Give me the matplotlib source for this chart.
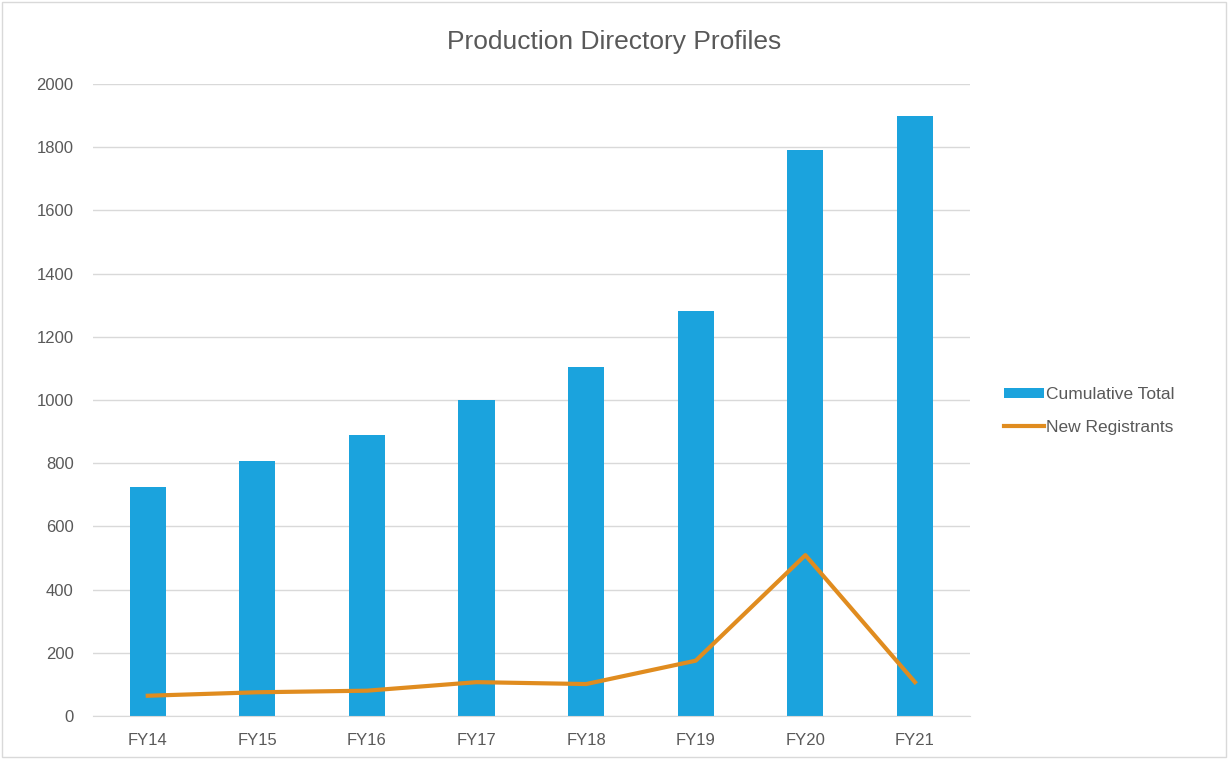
import matplotlib
matplotlib.use("Agg")
import matplotlib.pyplot as plt
from matplotlib.patches import Rectangle

categories = ["FY14", "FY15", "FY16", "FY17", "FY18", "FY19", "FY20", "FY21"]
cumulative_total = [725, 807, 889, 1000, 1104, 1282, 1791, 1899]
new_registrants = [64, 75, 80, 107, 101, 175, 509, 107]
yticks = [0, 200, 400, 600, 800, 1000, 1200, 1400, 1600, 1800, 2000]

plt.rcParams['font.family'] = ['Liberation Sans', 'DejaVu Sans']
text_color = "#595959"

fig = plt.figure(figsize=(12.28, 7.59), dpi=100)
ax = fig.add_axes([0.0757, 0.0567, 0.714, 0.8326])

x = list(range(len(categories)))
bars = ax.bar(x, cumulative_total, width=0.33, color="#1BA3DD", label="Cumulative Total", zorder=2)
line, = ax.plot(x, new_registrants, color="#E08C1F", linewidth=3, label="New Registrants", zorder=3)

ax.set_xlim(-0.5, len(categories) - 0.5)
ax.set_ylim(0, 2000)
ax.set_yticks(yticks)
ax.set_yticklabels([str(v) for v in yticks], fontsize=12, color=text_color)
ax.set_xticks(x)
ax.set_xticklabels(categories, fontsize=12, color=text_color)
ax.tick_params(axis='both', length=0, pad=12)
ax.tick_params(axis='y', pad=14)
ax.grid(axis='y', color="#D9D9D9", linewidth=1, zorder=0)
for s in ["top", "right", "left"]:
    ax.spines[s].set_visible(False)
ax.spines["bottom"].set_color("#D9D9D9")

fig.text(0.5, 0.945, "Production Directory Profiles", ha="center", va="center",
         fontsize=19, color=text_color)

leg = fig.legend([bars, line], ["Cumulative Total", "New Registrants"],
                 loc="center left", bbox_to_anchor=(0.805, 0.4585), frameon=False,
                 fontsize=12.5, handlelength=2.3, handleheight=0.5, handletextpad=0.1,
                 labelspacing=1.0)
for t in leg.get_texts():
    t.set_color(text_color)

fig.patches.append(Rectangle((0.002, 0.003), 0.996, 0.994, transform=fig.transFigure,
                             fill=False, edgecolor="#D9D9D9", linewidth=1))

fig.savefig("out.png", dpi=100)
